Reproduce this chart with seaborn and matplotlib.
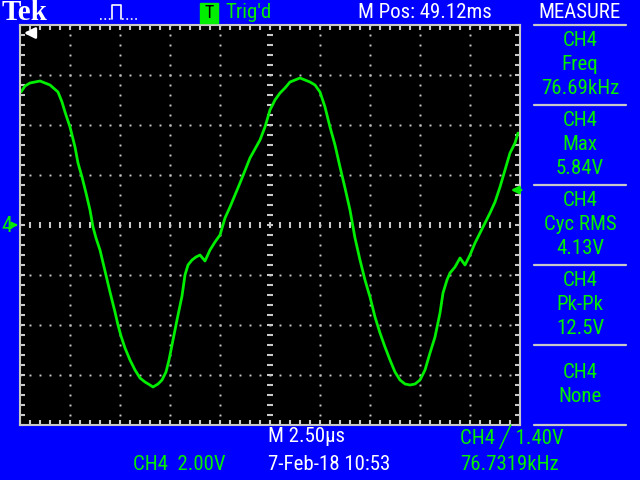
import numpy as np
import seaborn as sns
import matplotlib.pyplot as plt
from matplotlib import font_manager
from matplotlib.lines import Line2D
from matplotlib.patches import Rectangle

# CH4 trace: time in us (0 = screen centre), volts
time_us = [-12.45, -12.25, -12.0, -11.5, -11.0, -10.6, -10.4, -10.25, -10.0, -9.75,
           -9.6, -9.4, -9.2, -9.0, -8.85, -8.7, -8.5, -8.25, -8.0, -7.75,
           -7.6, -7.45, -7.25, -7.0, -6.75, -6.5, -6.25, -6.0, -5.85, -5.6, -5.4,
           -5.2, -5.05, -4.9, -4.75, -4.65, -4.4, -4.25, -4.1, -3.9, -3.7,
           -3.5, -3.25, -3.0, -2.75, -2.5, -2.25, -2.0, -1.5, -1.0, -0.5,
           -0.25, 0.0, 0.25, 0.5, 0.75, 1.0, 1.5, 2.0, 2.25, 2.5,
           2.75, 3.0, 3.25, 3.5, 3.75, 4.0, 4.25, 4.5, 4.75, 5.0,
           5.25, 5.5, 5.75, 6.0, 6.25, 6.5, 6.75, 7.0, 7.25, 7.5,
           7.75, 8.0, 8.25, 8.5, 8.65, 8.85, 9.0, 9.25, 9.5, 9.75,
           10.0, 10.25, 10.5, 10.75, 11.0, 11.25, 11.5, 11.75, 12.0, 12.25, 12.4]
ch4_volts = [5.32, 5.56, 5.68, 5.76, 5.60, 5.32, 4.92, 4.52, 3.92, 3.12,
             2.48, 1.92, 1.28, 0.60, -0.08, -0.52, -1.00, -1.84, -2.68, -3.48,
             -4.00, -4.44, -4.92, -5.40, -5.80, -6.12, -6.28, -6.40, -6.48, -6.36, -6.20,
             -5.88, -5.40, -4.80, -4.20, -3.80, -2.84, -2.00, -1.60, -1.40, -1.28,
             -1.20, -1.44, -1.00, -0.68, -0.40, 0.28, 0.72, 1.68, 2.68, 3.40,
             3.92, 4.60, 5.00, 5.28, 5.48, 5.72, 5.88, 5.72, 5.60, 5.32,
             4.72, 3.92, 3.20, 2.32, 1.48, 0.60, -0.52, -1.40, -2.20, -2.88,
             -3.68, -4.32, -4.88, -5.40, -5.88, -6.20, -6.36, -6.40, -6.36, -6.20,
             -5.80, -5.12, -4.48, -3.52, -2.72, -2.20, -1.92, -1.68, -1.32, -1.60,
             -1.20, -0.72, -0.32, 0.08, 0.48, 0.92, 1.52, 2.20, 2.88, 3.28, 3.68]

trig_level = 1.40
measure_rows = [("CH4", "Freq", "76.69kHz"), ("CH4", "Max", "5.84V"),
                ("CH4", "Cyc RMS", "4.13V"), ("CH4", "Pk-Pk", "12.5V"),
                ("CH4", "None", "")]

BLUE = "#0000ff"
GREEN = "#00ee00"
GRAY = "#c8c8c8"

sns.set_style("dark", {"axes.facecolor": "black", "figure.facecolor": BLUE})
families = ['Liberation Sans Narrow', 'Roboto Condensed', 'DejaVu Sans']
plt.rcParams['font.family'] = families
plt.rcParams['font.stretch'] = 'condensed'

# a narrow face looks like the scope font; otherwise shrink the normal one
found = font_manager.findfont(font_manager.FontProperties(family=families, stretch='condensed'))
narrow = ('Narrow' in found) or ('Condensed' in found)
FS = 15 if narrow else 12

fig = plt.figure(figsize=(6.4, 4.8), dpi=100)
ax = fig.add_axes([20/640, 55/480, 500/640, 400/480])

def ftext(x, y, s, **kw):
    # place text using screen pixels (y from top)
    fig.text(x/640, 1 - y/480, s, **kw)

# graticule dots
yy = np.arange(-8, 8.01, 0.4)
xx = np.arange(-12.5, 12.51, 0.5)
for xg in np.arange(-10, 10.1, 2.5):
    if xg != 0:
        ax.plot(np.full(len(yy), xg), yy, 's', ms=1.4, color=GRAY, mec='none')
for yg in np.arange(-6, 6.1, 2):
    if yg != 0:
        ax.plot(xx, np.full(len(xx), yg), 's', ms=1.4, color=GRAY, mec='none')
# centre crosshair ticks
ax.plot(xx, np.zeros(len(xx)), '|', ms=5, mew=1.5, color=GRAY)
ax.plot(np.zeros(len(yy)), yy, '_', ms=5, mew=1.5, color=GRAY)

sns.lineplot(x=time_us, y=ch4_volts, ax=ax, color=GREEN, linewidth=2, estimator=None)

ax.set_xlim(-12.5, 12.5)
ax.set_ylim(-8, 8)
ax.set_xticks(xx)
ax.set_yticks(yy)
ax.tick_params(which='both', direction='in', length=3.5, width=1.5, color=GRAY,
               top=True, right=True, bottom=True, left=True,
               labelbottom=False, labelleft=False)
ax.set_xlabel("")
ax.set_ylabel("")
for sp in ax.spines.values():
    sp.set_visible(True)
    sp.set_color(GRAY)
    sp.set_linewidth(1.5)

# trigger level arrow on the right edge
ax.annotate('', xy=(11.9, trig_level), xytext=(12.7, trig_level),
            arrowprops=dict(arrowstyle='-|>', color=GREEN, lw=1.8, mutation_scale=11),
            annotation_clip=False)
# ground marker
ftext(1, 226, "4", color=GREEN, fontsize=FS + 1, va='center', ha='left')
ax.annotate('', xy=(21, 255), xycoords='figure pixels', xytext=(12, 255),
            textcoords='figure pixels',
            arrowprops=dict(arrowstyle='-|>', color=GREEN, lw=1.6, mutation_scale=8))
# trigger position arrow
ax.annotate('', xy=(21, 447), xycoords='figure pixels', xytext=(34, 447),
            textcoords='figure pixels',
            arrowprops=dict(arrowstyle='-|>', color='white', lw=2, mutation_scale=16))

# top bar
ftext(2, 12, "Tek", color='white', fontsize=21, fontweight='bold',
      family=['Liberation Serif', 'DejaVu Serif'], va='center', ha='left')
fig.add_artist(Line2D(np.array([100, 112]) / 640, 1 - np.array([19, 19]) / 480,
                      color='white', lw=1.2, ls=':'))
fig.add_artist(Line2D(np.array([112, 112, 121, 121]) / 640,
                      1 - np.array([19, 5, 5, 19]) / 480, color='white', lw=1.2))
fig.add_artist(Line2D(np.array([122, 137]) / 640, 1 - np.array([19, 19]) / 480,
                      color='white', lw=1.2, ls=':'))
fig.add_artist(Rectangle((200/640, 1 - 23/480), 18/640, 20/480,
                         transform=fig.transFigure, color=GREEN))
ftext(209, 13, "T", color='black', fontsize=13, va='center', ha='center')
ftext(225, 12, "Trig'd", color=GREEN, fontsize=FS, va='center', ha='left')
ftext(358, 12, "M Pos: 49.12ms", color='white', fontsize=FS, va='center', ha='left')
ftext(580, 12, "MEASURE", color='white', fontsize=FS, va='center', ha='center')

# measure panel
for yl in [25, 105, 185, 265, 345, 425]:
    fig.add_artist(Line2D([534/640, 626/640], [1 - yl/480, 1 - yl/480], color=GRAY, lw=1.6))
for i, (ch, name, val) in enumerate(measure_rows):
    top = 25 + 80 * i
    if val:
        ys = [top + 15, top + 40, top + 63]
    else:
        ys = [top + 27, top + 52, None]
    for s, yv in zip((ch, name, val), ys):
        if s:
            ftext(580, yv, s, color=GREEN, fontsize=FS, va='center', ha='center')

# bottom bar
ftext(268, 437, "M 2.50\u00b5s", color='white', fontsize=FS, va='center', ha='left')
ftext(460, 437, "CH4 \u2571 1.40V", color=GREEN, fontsize=FS, va='center', ha='left')
ftext(133, 465, "CH4  2.00V", color=GREEN, fontsize=FS, va='center', ha='left')
ftext(268, 465, "7-Feb-18 10:53", color='white', fontsize=FS, va='center', ha='left')
ftext(460, 465, "76.7319kHz", color=GREEN, fontsize=FS, va='center', ha='left')

fig.savefig("out.png", dpi=100, facecolor=BLUE)
